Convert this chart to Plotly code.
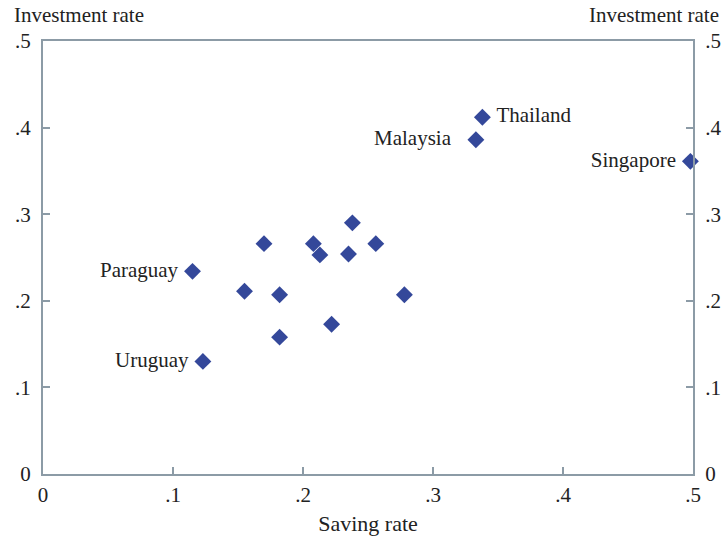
import plotly.graph_objects as go

# Saving vs. investment rates
saving = [0.338, 0.333, 0.498, 0.115, 0.123, 0.170, 0.155, 0.182, 0.182,
          0.208, 0.213, 0.238, 0.235, 0.256, 0.222, 0.278]
investment = [0.412, 0.386, 0.361, 0.234, 0.130, 0.266, 0.211, 0.207, 0.158,
              0.266, 0.253, 0.290, 0.254, 0.266, 0.173, 0.207]
country = ["Thailand", "Malaysia", "Singapore", "Paraguay", "Uruguay",
           "", "", "", "", "", "", "", "", "", "", ""]
label_side = ["middle right", "middle left", "middle left", "middle left",
              "middle left"] + ["middle left"] * 11
label_pad = [" ", "   ", " ", " ", " "] + [""] * 11

tick_vals = [0, 0.1, 0.2, 0.3, 0.4, 0.5]
tick_text = ["0", ".1", ".2", ".3", ".4", ".5"]

FONT = "Liberation Serif"
TEXT_COLOR = "#222222"
AXIS_COLOR = "#8C9BA6"
MARK_COLOR = "#34489A"

labels = []
for name, pad, side in zip(country, label_pad, label_side):
    if not name:
        labels.append("")
    elif side.endswith("right"):
        labels.append(pad + name)
    else:
        labels.append(name + pad)

fig = go.Figure()
fig.add_trace(go.Scatter(
    x=saving, y=investment, mode="markers+text",
    text=labels,
    textposition=label_side,
    textfont=dict(family=FONT, size=21, color=TEXT_COLOR),
    marker=dict(symbol="diamond", size=13, color=MARK_COLOR),
    cliponaxis=False, showlegend=False,
))
# companion trace so the right-hand axis is drawn
fig.add_trace(go.Scatter(x=[None], y=[None], yaxis="y2", showlegend=False))

axis_common = dict(
    range=[0, 0.5], tickvals=tick_vals, ticktext=tick_text,
    showgrid=False, zeroline=False, showline=True, automargin=False,
    linecolor=AXIS_COLOR, linewidth=2,
    ticks="inside", ticklen=7, tickcolor=AXIS_COLOR, tickwidth=2,
    tickfont=dict(family=FONT, size=21, color=TEXT_COLOR),
)

fig.update_layout(
    width=725, height=542,
    margin=dict(l=43, r=32, t=41, b=68),
    plot_bgcolor="white", paper_bgcolor="white",
    xaxis=dict(**axis_common, mirror=True, ticklabelstandoff=1,
               title=dict(text="Saving rate", standoff=9,
                          font=dict(family=FONT, size=22, color=TEXT_COLOR))),
    yaxis=dict(**axis_common, side="left", ticklabelstandoff=6),
    yaxis2=dict(**axis_common, side="right", overlaying="y",
                ticklabelstandoff=6),
    annotations=[
        dict(text="Investment rate", xref="paper", yref="paper",
             x=-31 / 650, y=1 + 26 / 433, xanchor="left", yanchor="middle",
             showarrow=False, font=dict(family=FONT, size=21, color=TEXT_COLOR)),
        dict(text="Investment rate", xref="paper", yref="paper",
             x=(650 + 28) / 650, y=1 + 26 / 433, xanchor="right",
             yanchor="middle",
             showarrow=False, font=dict(family=FONT, size=21, color=TEXT_COLOR)),
    ],
)

fig.write_html("out.html")
